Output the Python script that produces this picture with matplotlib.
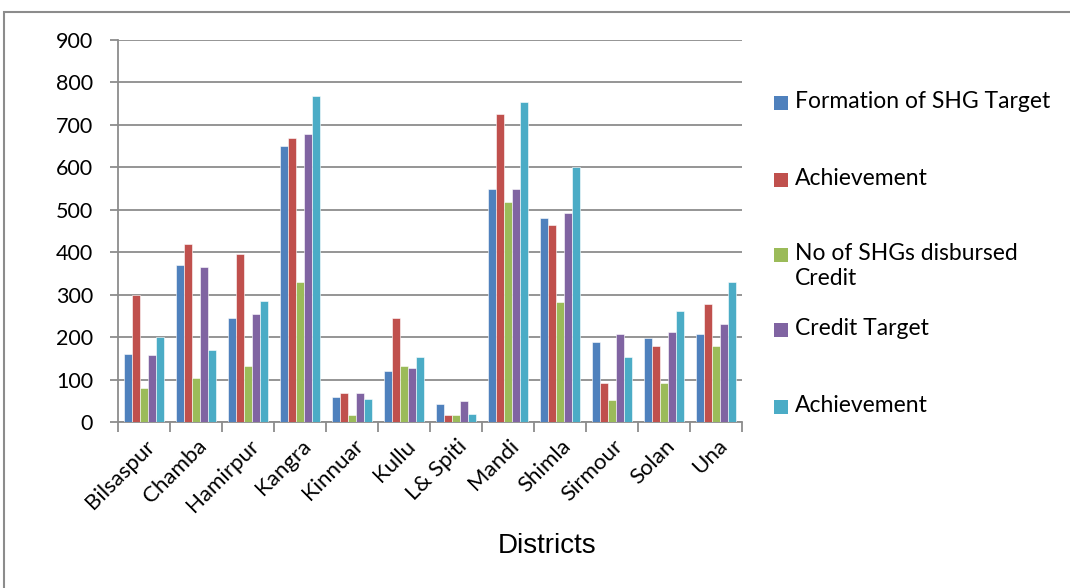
import matplotlib.pyplot as plt
import matplotlib.patches as mpatches
import matplotlib.transforms as mtransforms
import numpy as np

districts = ["Bilsaspur", "Chamba", "Hamirpur", "Kangra", "Kinnuar", "Kullu",
             "L& Spiti", "Mandi", "Shimla", "Sirmour", "Solan", "Una"]

shg_target = [160, 370, 245, 650, 60, 120, 43, 548, 480, 188, 198, 208]
shg_achievement = [300, 420, 396, 668, 68, 245, 16, 725, 463, 93, 180, 278]
shg_credit = [80, 103, 133, 330, 16, 133, 16, 518, 283, 52, 92, 180]
credit_target = [157, 365, 255, 678, 68, 128, 50, 550, 492, 208, 211, 230]
credit_achievement = [200, 170, 285, 768, 55, 152, 18, 755, 600, 153, 262, 330]

series_labels = ["Formation of SHG Target", "Achievement",
                 "No of SHGs disbursed\nCredit", "Credit Target", "Achievement"]
series_colors = ["#4f81bd", "#c0504d", "#9bbb59", "#8064a2", "#4bacc6"]

W, H = 1070, 588
plt.rcParams["font.family"] = ["Lato", "DejaVu Sans"]

fig = plt.figure(figsize=(W / 100, H / 100), dpi=100)
ax = fig.add_axes([118 / W, 1 - 422 / H, 624 / W, 382 / H])

# outer chart border
fig.patches.append(mpatches.Rectangle((4 / W, -0.1), 1.2, 1 - 12 / H + 0.1,
                                      transform=fig.transFigure, fill=False,
                                      edgecolor="#8c8c8c", linewidth=1.5))

x = np.arange(len(districts))
width = 0.155
all_series = [shg_target, shg_achievement, shg_credit, credit_target, credit_achievement]
for i, (vals, lab, col) in enumerate(zip(all_series, series_labels, series_colors)):
    ax.bar(x + (i - 2) * width, vals, width, color=col, label=lab,
           edgecolor="white", linewidth=0.4, zorder=3)

ax.set_ylim(0, 900)
ax.set_yticks(range(0, 901, 100))
ax.set_xlim(-0.5, len(districts) - 0.5)
ax.yaxis.grid(True, color="#8c8c8c", linewidth=1.3, zorder=0)
ax.set_axisbelow(True)

for s in ["top", "right"]:
    ax.spines[s].set_visible(False)
for s in ["left", "bottom"]:
    ax.spines[s].set_color("#8c8c8c")
    ax.spines[s].set_linewidth(1.3)

ax.set_xticks(x)
ax.set_xticklabels(districts, rotation=45, ha="right", va="center",
                   rotation_mode="anchor", fontsize=16)
ax.tick_params(axis="x", length=0, pad=15)
shift = mtransforms.ScaledTranslation(8 / 100, 0, fig.dpi_scale_trans)
for lbl in ax.get_xticklabels():
    lbl.set_transform(lbl.get_transform() + shift)
ax.set_xticks(np.arange(-0.5, len(districts)), minor=True)
ax.tick_params(axis="x", which="minor", length=7, color="#8c8c8c", width=1.3)
ax.tick_params(axis="y", labelsize=15.5, length=6, color="#8c8c8c", width=1.3,
               pad=12)

fig.text(547 / W, 1 - 546 / H, "Districts", ha="center", va="center",
         fontsize=20, family=["Liberation Sans Narrow", "Liberation Sans"])

# legend, laid out by hand like the spreadsheet legend
legend_y = [103, 180, 255, 330, 407]
for lab, col, ly in zip(series_labels, series_colors, legend_y):
    fig.patches.append(mpatches.Rectangle((774 / W, 1 - (ly + 7) / H), 14 / W, 14 / H,
                                          transform=fig.transFigure,
                                          facecolor=col, edgecolor="none"))
    fig.text(795 / W, 1 - (ly - 12) / H, lab, ha="left", va="top",
             fontsize=16.5, linespacing=1.25)

fig.savefig("out.png", dpi=100)
